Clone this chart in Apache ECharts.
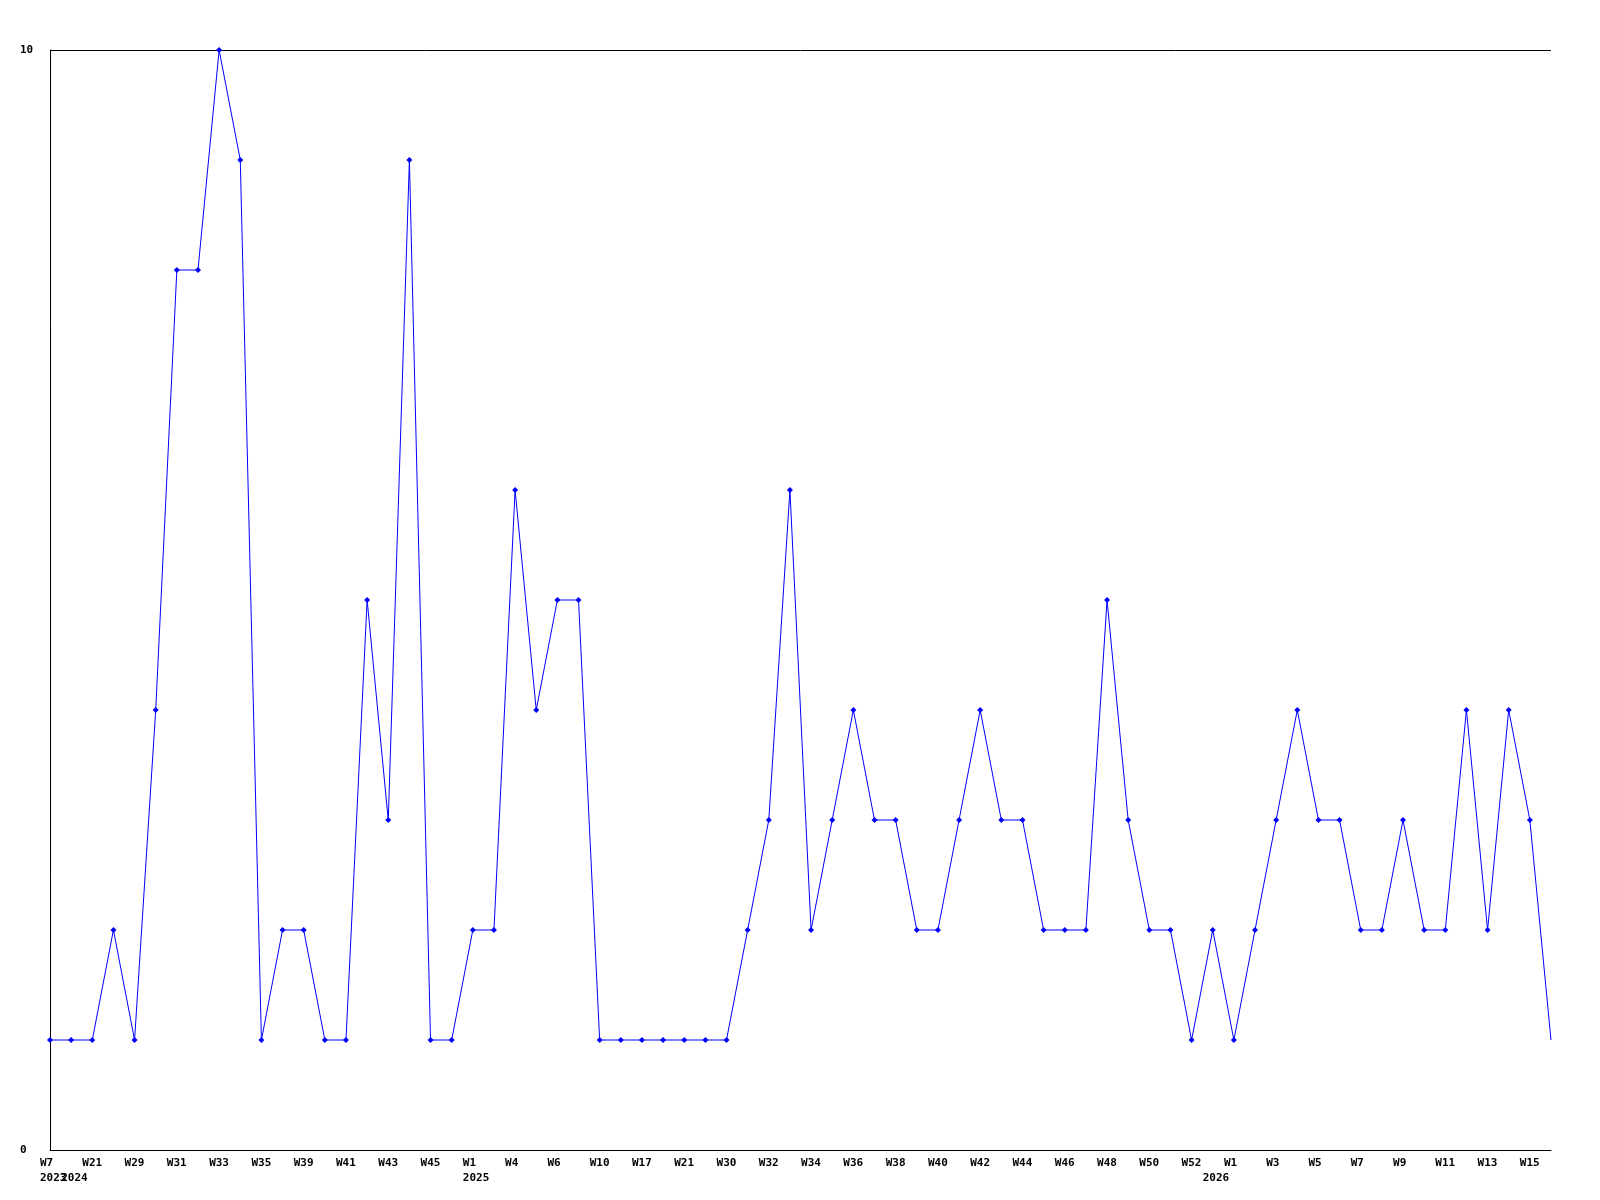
<!DOCTYPE html>
<html>
<head>
<meta charset="utf-8">
<title>Weekly count</title>
<script src="https://cdn.jsdelivr.net/npm/echarts@6/dist/echarts.min.js"></script>
<style>
  html, body { margin: 0; padding: 0; background: #fff; }
  #chart { width: 1600px; height: 1200px; }
</style>
</head>
<body>
<div id="chart"></div>
<script>
// week labels per year (odd positions are not printed on the axis, guessed)
const weeks2023 = ['W7'];
const weeks2024 = ['W20', 'W21', 'W28', 'W29', 'W30', 'W31', 'W32', 'W33', 'W34', 'W35',
  'W38', 'W39', 'W40', 'W41', 'W42', 'W43', 'W44', 'W45', 'W46'];
const weeks2025 = ['W1', 'W3', 'W4', 'W5', 'W6', 'W9', 'W10', 'W14', 'W17', 'W19', 'W21', 'W26',
  'W30', 'W31', 'W32', 'W33', 'W34', 'W35', 'W36', 'W37', 'W38', 'W39', 'W40', 'W41', 'W42',
  'W43', 'W44', 'W45', 'W46', 'W47', 'W48', 'W49', 'W50', 'W51', 'W52'];
const weeks2026 = ['W0', 'W1', 'W2', 'W3', 'W4', 'W5', 'W6', 'W7', 'W8', 'W9', 'W10', 'W11',
  'W12', 'W13', 'W14', 'W15', 'W16'];

const counts = [
  1, 1, 1, 2, 1, 4, 8, 8, 10, 9,
  1, 2, 2, 1, 1, 5, 3, 9, 1, 1,
  2, 2, 6, 4, 5, 5, 1, 1, 1, 1,
  1, 1, 1, 2, 3, 6, 2, 3, 4, 3,
  3, 2, 2, 3, 4, 3, 3, 2, 2, 2,
  5, 3, 2, 2, 1, 2, 1, 2, 3, 4,
  3, 3, 2, 2, 3, 2, 2, 4, 2, 4,
  3, 1
];

const categories = [].concat(
  weeks2023.map(w => '2023 ' + w),
  weeks2024.map(w => '2024 ' + w),
  weeks2025.map(w => '2025 ' + w),
  weeks2026.map(w => '2026 ' + w)
);

const font = { fontFamily: 'DejaVu Sans Mono', fontWeight: 'bold', fontSize: 11, color: '#000' };

// labels start 10px left of their point, like the original
const leftRich = { t: Object.assign({ align: 'left' }, font) };

const chart = echarts.init(document.getElementById('chart'));
chart.setOption({
  animation: false,
  backgroundColor: '#fff',
  grid: { left: 50, top: 50, right: 49, bottom: 50, containLabel: false, outerBoundsMode: 'none' },
  xAxis: [
    {
      type: 'category',
      data: categories,
      boundaryGap: false,
      axisLine: { lineStyle: { color: '#000', width: 1 } },
      axisTick: { show: false },
      axisLabel: Object.assign({
        interval: 1,
        margin: 8,
        hideOverlap: false,
        align: 'center',
        width: 20,
        rich: leftRich,
        formatter: v => '{t|' + v.split(' ')[1] + '}'
      }, font),
      splitLine: { show: false }
    },
    {
      type: 'category',
      data: categories,
      boundaryGap: false,
      position: 'bottom',
      offset: 0,
      axisLine: { show: false },
      axisTick: { show: false },
      axisLabel: Object.assign({
        interval: 0,
        margin: 23,
        hideOverlap: false,
        align: 'center',
        width: 20,
        rich: leftRich,
        formatter: (v, i) => {
          const y = v.split(' ')[0];
          if (i === 0 || categories[i - 1].split(' ')[0] !== y) return '{t|' + y + '}';
          return '';
        }
      }, font),
      splitLine: { show: false }
    }
  ],
  yAxis: {
    type: 'value',
    min: 0,
    max: 10,
    interval: 10,
    axisLine: { show: true, lineStyle: { color: '#000', width: 1 } },
    axisTick: { show: false },
    axisLabel: Object.assign({ align: 'left', margin: 30 }, font),
    splitLine: { show: true, lineStyle: { color: '#000', width: 1 } }
  },
  series: [
    {
      type: 'line',
      xAxisIndex: 0,
      data: counts.map((c, i) => i === counts.length - 1 ? { value: c, symbol: 'none' } : c),
      symbol: 'diamond',
      symbolSize: 6,
      showAllSymbol: true,
      lineStyle: { color: '#0000ff', width: 1 },
      itemStyle: { color: '#0000ff' }
    }
  ]
});
</script>
</body>
</html>
